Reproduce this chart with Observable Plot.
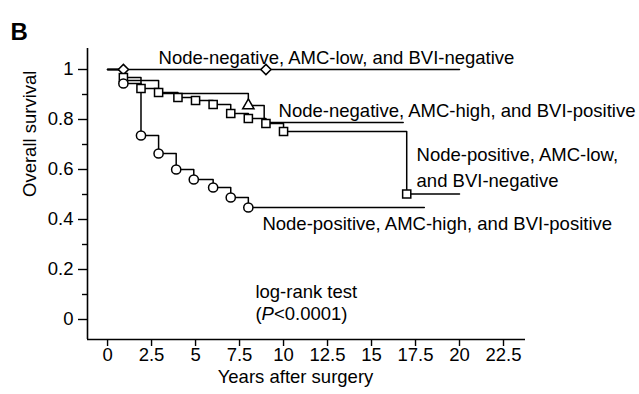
<!DOCTYPE html>
<html><head><meta charset="utf-8">
<script src="https://cdn.jsdelivr.net/npm/d3@7"></script>
<script src="https://cdn.jsdelivr.net/npm/@observablehq/plot@0.6"></script>
<style>body{margin:0;background:#fff}</style>
</head><body><div id="chart"></div>
<script>
// Axis ticks
const xTicks = [0, 2.5, 5, 7.5, 10, 12.5, 15, 17.5, 20, 22.5];
const yTicks = [0, 0.2, 0.4, 0.6, 0.8, 1];
const yMinorTicks = [0.1, 0.3, 0.5, 0.7, 0.9];

// Node-negative, AMC-low, BVI-negative (diamond)
const dmTimes = [0, 20];
const dmSurv = [1, 1];
const dmMarkT = [0.9, 9.0];
const dmMarkS = [1, 1];

// Node-negative, AMC-high, BVI-positive (triangle)
const trTimes = [0, 0.8, 2.9, 8.0, 8.9, 16.8];
const trSurv = [1, 0.956, 0.904, 0.856, 0.788, 0.788];
const trMarkT = [8.0];
const trMarkS = [0.856];

// Node-positive, AMC-low, BVI-negative (square)
const sqTimes = [0, 0.9, 1.9, 2.9, 4.0, 5.0, 6.0, 7.0, 8.0, 9.0, 10.0, 17.0, 20.0];
const sqSurv = [1, 0.968, 0.924, 0.908, 0.888, 0.876, 0.86, 0.824, 0.804, 0.784, 0.752, 0.502, 0.502];
const sqMarkT = [0.9, 1.9, 2.9, 4.0, 5.0, 6.0, 7.0, 8.0, 9.0, 10.0, 17.0];
const sqMarkS = [0.968, 0.924, 0.908, 0.888, 0.876, 0.86, 0.824, 0.804, 0.784, 0.752, 0.502];

// Node-positive, AMC-high, BVI-positive (circle)
const ciTimes = [0, 0.9, 1.9, 2.9, 3.9, 4.9, 6.0, 7.0, 8.0, 18.0];
const ciSurv = [1, 0.944, 0.736, 0.664, 0.6, 0.56, 0.528, 0.488, 0.448, 0.448];
const ciMarkT = [0.9, 1.9, 2.9, 3.9, 4.9, 6.0, 7.0, 8.0];
const ciMarkS = [0.944, 0.736, 0.664, 0.6, 0.56, 0.528, 0.488, 0.448];

// Annotations
const labelTexts = ["Node-negative, AMC-low, and BVI-negative", "Node-negative, AMC-high, and BVI-positive", "Node-positive, AMC-low,", "and BVI-negative", "Node-positive, AMC-high, and BVI-positive", "log-rank test"];
const labelX = [2.9, 9.72, 17.56, 17.56, 8.8, 8.4];
const labelY = [1.046, 0.834, 0.656, 0.552, 0.38, 0.108];

const zip = (t, s) => t.map((v, i) => ({t: v, s: s[i]}));
const curves = [
  {line: zip(dmTimes, dmSurv), marks: zip(dmMarkT, dmMarkS), symbol: "diamond2", r: 4.6},
  {line: zip(trTimes, trSurv), marks: zip(trMarkT, trMarkS), symbol: "triangle", r: 4.2},
  {line: zip(sqTimes, sqSurv), marks: zip(sqMarkT, sqMarkS), symbol: "square", r: 4.6},
  {line: zip(ciTimes, ciSurv), marks: zip(ciMarkT, ciMarkS), symbol: "circle", r: 4.6}
];
const labels = labelTexts.map((d, i) => ({text: d, x: labelX[i], y: labelY[i]}));

const font = "'Liberation Sans', Arial, Helvetica, sans-serif";
const fs = 18.5;

const marks = [
  Plot.ruleX([-1.14], {strokeWidth: 1.6}),
  Plot.ruleY([-0.08], {strokeWidth: 1.6}),
  Plot.axisY({ticks: yTicks, tickSize: 9, tickPadding: 5, tickFormat: d => String(d), label: null, strokeWidth: 1.4, fontSize: fs}),
  Plot.axisY({ticks: yMinorTicks, tickSize: 5, text: null, label: null, strokeWidth: 1.4}),
  Plot.axisX({ticks: xTicks, tickSize: 7, tickPadding: 1, tickFormat: d => String(d), label: null, strokeWidth: 1.4, fontSize: fs})
];
for (const c of curves) {
  marks.push(Plot.line(c.line, {x: "t", y: "s", curve: "step-after", stroke: "black", strokeWidth: 1.5}));
}
for (const c of curves) {
  marks.push(Plot.dot(c.marks, {x: "t", y: "s", symbol: () => c.symbol, r: c.r, fill: "white", stroke: "black", strokeWidth: 1.5}));
}
marks.push(Plot.text(labels, {x: "x", y: "y", text: "text", textAnchor: "start", fontSize: fs, fill: "black"}));
marks.push(Plot.text(["(P<0.0001)"], {x: () => 8.4, y: () => 0.02, text: d => d, textAnchor: "start", fontSize: fs, fill: "black"}));
marks.push(Plot.text(["Overall survival"], {frameAnchor: "left", rotate: -90, dx: -57, dy: 3, fontSize: fs, fill: "black"}));
marks.push(Plot.text(["Years after surgery"], {frameAnchor: "bottom", dx: -11, dy: 43, fontSize: fs, fill: "black"}));
marks.push(Plot.text(["B"], {frameAnchor: "top-left", textAnchor: "start", dx: -77, dy: -26, fontSize: 24, fontWeight: "bold", fill: "black"}));

const chart = Plot.plot({
  width: 639,
  height: 394,
  marginLeft: 87,
  marginRight: 114,
  marginTop: 48,
  marginBottom: 55,
  x: {domain: [-1.14, 23.75]},
  y: {domain: [-0.08, 1.084]},
  symbol: {type: "identity"},
  style: {fontFamily: font, fontSize: fs + "px", color: "black", background: "white", overflow: "visible"},
  marks
});
document.getElementById("chart").appendChild(chart);

// italic P in the p-value label
d3.select(chart).selectAll("text").each(function() {
  const el = d3.select(this);
  if (el.text() === "(P<0.0001)") {
    const tnode = el.select("tspan").empty() ? el : el.select("tspan");
    tnode.text(null);
    tnode.append("tspan").text("(");
    tnode.append("tspan").attr("font-style", "italic").text("P");
    tnode.append("tspan").text("<0.0001)");
  }
});
</script>
</body></html>
